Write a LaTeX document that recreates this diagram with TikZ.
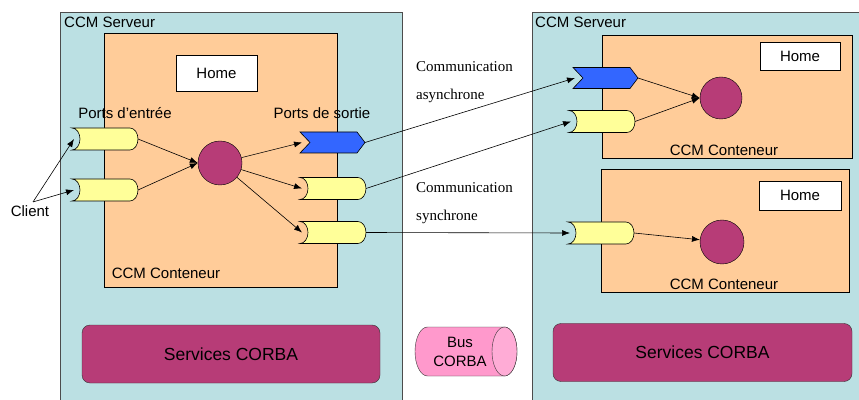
\documentclass[tikz,border=0pt]{standalone}
\usepackage{fontspec}
\setmainfont{Liberation Sans}
\newfontfamily\comfont{Liberation Serif}
\usetikzlibrary{arrows.meta,calc}
\definecolor{srvblue}{RGB}{187,224,227}
\definecolor{contpeach}{RGB}{255,204,153}
\definecolor{compmag}{RGB}{183,60,119}
\definecolor{portyel}{RGB}{255,255,153}
\definecolor{portblue}{RGB}{51,102,255}
\definecolor{buspink}{RGB}{255,153,204}
\definecolor{busend}{RGB}{255,172,214}

% port synchrone (jaune) et asynchrone (bleu)
\newcommand{\yport}[3]{%
  \draw[portY] (#2,#3+11) -- (#2+58,#3+11) arc(90:-90:8pt and 11pt) -- (#2,#3-11) arc(-90:90:8pt and 11pt) -- cycle;
  \coordinate (#1-in) at (#2+2,#3);
  \coordinate (#1-out) at (#2+66,#3);}
\newcommand{\bport}[3]{%
  \draw[portB] (#2,#3+10.5) -- (#2+57,#3+10.5) -- (#2+65,#3) -- (#2+57,#3-10.5) -- (#2,#3-10.5) -- (#2+10,#3) -- cycle;
  \coordinate (#1-in) at (#2+2,#3);
  \coordinate (#1-out) at (#2+65,#3);}

\begin{document}
\begin{tikzpicture}[x=1pt,y=1pt,
  every node/.style={font=\fontsize{15}{17}\selectfont},
  srv/.style={draw=black!70,fill=srvblue,line width=.8pt},
  cont/.style={draw=black,fill=contpeach,line width=.8pt},
  homebox/.style={draw=black,fill=white,minimum width=81pt,minimum height=36pt,inner sep=0pt},
  svc/.style={draw=black!80,fill=compmag,rounded corners=8pt,minimum width=298pt,minimum height=58pt,font=\fontsize{17.5}{20}\selectfont},
  comp/.style={circle,draw=black,fill=compmag,minimum size=44pt,inner sep=0pt},
  portY/.style={draw=black,fill=portyel,line width=.6pt},
  portB/.style={draw=black,fill=portblue,line width=.6pt},
  flow/.style={-{Latex[length=8pt,width=6pt]},line width=.6pt},
  com/.style={anchor=base west,inner sep=0pt,font=\comfont\fontsize{15}{17}\selectfont}]

	\useasboundingbox (0,0) rectangle (859,399);
	\clip (0,0) rectangle (859,399);

	% serveurs
	\draw[srv] (60,387) rectangle (402,-5);
	\draw[srv] (532,387) rectangle (870,-5);
	\node[anchor=west,inner sep=0pt] (srvL) at (64,377) {CCM Serveur};
	\node[anchor=west,inner sep=0pt] (srvR) at (535,377) {CCM Serveur};

	% conteneurs
	\draw[cont] (104,366) rectangle (337,112);
	\draw[cont] (602,364) rectangle (852,241);
	\draw[cont] (601,230) rectangle (849,107);
	\node (contL) at (166,126) {CCM Conteneur};
	\node (contR1) at (724,249) {CCM Conteneur};
	\node (contR2) at (724,115) {CCM Conteneur};

	\node[homebox] (homeL) at (216.5,326) {Home};
	\node[homebox,minimum width=80pt,minimum height=28pt] (homeR1) at (800,343) {Home};
	\node[homebox,minimum width=82pt,minimum height=29pt] (homeR2) at (800,203.5) {Home};

	\node[svc] (svcL) at (231,45) {Services CORBA};
	\node[svc,minimum width=299pt] (svcR) at (702.5,46.5) {Services CORBA};

	% bus
	\draw[draw=black!80,fill=buspink] (504.5,72) -- (427.5,72) arc(90:270:12.5pt and 24.5pt) -- (504.5,23) arc(-90:90:12.5pt and 24.5pt) -- cycle;
	\draw[draw=black!80,fill=busend] (504.5,47.5) ellipse (12.5pt and 24.5pt);
	\node[align=center,inner sep=0pt,font=\fontsize{15}{19}\selectfont] (bus) at (460,47.5) {Bus\\CORBA};

	% ports
	\yport{p1}{72}{260}
	\yport{p2}{72}{209}
	\bport{b1}{300}{256.5}
	\yport{s2}{300}{210.5}
	\yport{s3}{300}{166.5}
	\bport{rb}{573}{321}
	\yport{ry1}{569}{277.5}
	\yport{ry2}{568}{166}

	% composants
	\node[comp] (compL) at (220,236) {};
	\node[comp,minimum size=42pt] (compR1) at (721,301) {};
	\node[comp] (compR2) at (722,157) {};

	\node (pin) at (125,286) {Ports d’entrée};
	\node (pout) at (322,286) {Ports de sortie};
	\node (client) at (30,188) {Client};

	\node[com] (async1) at (416,327) {Communication};
	\node[com] (async2) at (416,299) {asynchrone};
	\node[com] (sync1) at (416,206) {Communication};
	\node[com] (sync2) at (416,178) {synchrone};

	\draw[flow] ([xshift=3pt]client.north) -- (p1-in);
	\draw[flow] ([xshift=3pt]client.north) -- (p2-in);
	\draw[flow] (p1-out) -- (compL.west);
	\draw[flow] (p2-out) -- (compL.west);
	\draw[flow] (compL) -- (b1-in);
	\draw[flow] (compL) -- (s2-in);
	\draw[flow] (compL) -- (s3-in);
	\draw[flow] (b1-out) -- (rb-in);
	\draw[flow] (s2-out) -- (ry1-in);
	\draw[flow] (s3-out) -- (ry2-in);
	\draw[flow] (rb-out) -- (compR1.west);
	\draw[flow] (ry1-out) -- (compR1.west);
	\draw[flow] (ry2-out) -- (compR2);
\end{tikzpicture}
\end{document}
